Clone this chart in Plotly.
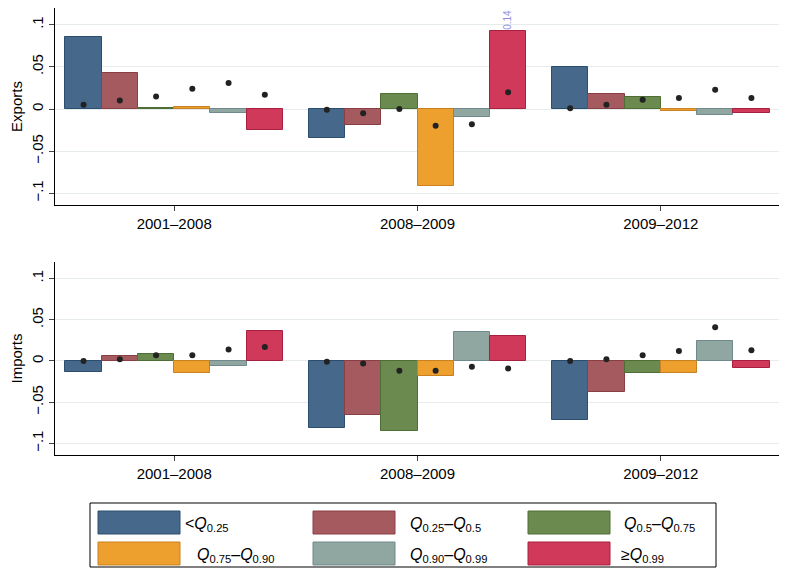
import plotly.graph_objects as go
from plotly.subplots import make_subplots

periods = ["2001–2008", "2008–2009", "2009–2012"]
series = ["<Q0.25", "Q0.25–Q0.5", "Q0.5–Q0.75", "Q0.75–Q0.90", "Q0.90–Q0.99", "≥Q0.99"]
legend_labels = ["<<i>Q</i><sub>0.25</sub>", "<i>Q</i><sub>0.25</sub>–<i>Q</i><sub>0.5</sub>",
                 "<i>Q</i><sub>0.5</sub>–<i>Q</i><sub>0.75</sub>", "<i>Q</i><sub>0.75</sub>–<i>Q</i><sub>0.90</sub>",
                 "<i>Q</i><sub>0.90</sub>–<i>Q</i><sub>0.99</sub>", "≥<i>Q</i><sub>0.99</sub>"]
colors = ["#46698b", "#a55a5f", "#6b8a4f", "#eea02f", "#8fa7a0", "#d0395a"]
edges = ["#2c4e6e", "#8a3f45", "#4f6e36", "#c98020", "#70898a", "#a8203f"]

exp_bars = [[0.085, -0.035, 0.050], [0.043, -0.019, 0.018], [0.001, 0.018, 0.014],
            [0.003, -0.092, -0.002], [-0.005, -0.009, -0.007], [-0.025, 0.14, -0.005]]
exp_dots = [[0.005, -0.001, 0.001], [0.010, -0.005, 0.005], [0.015, 0.000, 0.011],
            [0.024, -0.020, 0.013], [0.031, -0.018, 0.023], [0.017, 0.020, 0.013]]
imp_bars = [[-0.013, -0.081, -0.071], [0.006, -0.065, -0.038], [0.009, -0.085, -0.014],
            [-0.015, -0.018, -0.015], [-0.006, 0.035, 0.024], [0.036, 0.030, -0.009]]
imp_dots = [[0.000, -0.001, 0.000], [0.002, -0.003, 0.002], [0.007, -0.012, 0.007],
            [0.007, -0.012, 0.012], [0.014, -0.007, 0.041], [0.017, -0.009, 0.013]]
clip_top = 0.093

OFF = 8  # page body margin
T, B, H = 0, 116, 447
def py(p):
    return 1 - (p - OFF - T) / H
def px(p):
    return (p - 55) / 725

W = 0.149
fig = make_subplots(rows=2, cols=1)
for row, bars, dots in [(1, exp_bars, exp_dots), (2, imp_bars, imp_dots)]:
    for i in range(6):
        xs = [g + (i - 2.5) * W + 0.01 for g in range(3)]
        ys = [min(v, clip_top) for v in bars[i]]
        fig.add_trace(go.Bar(x=xs, y=ys, width=W, marker=dict(color=colors[i], line=dict(color=edges[i], width=1)),
                             showlegend=False), row=row, col=1)
        fig.add_trace(go.Scatter(x=xs, y=dots[i], mode="markers",
                                 marker=dict(color="#222222", size=6), showlegend=False), row=row, col=1)
        for x, v in zip(xs, bars[i]):
            if v > clip_top:
                fig.add_annotation(x=x, y=clip_top, xref="x" if row == 1 else "x2", yref="y" if row == 1 else "y2",
                                   text=f"{v:.2f}", textangle=-90, showarrow=False, yanchor="bottom",
                                   yshift=0, borderpad=0, font=dict(color="#8f8fdf", size=10))
    fig.update_xaxes(row=row, col=1, range=[-0.48, 2.5], tickvals=[0.01, 1.01, 2.01], ticktext=periods,
                     showline=True, linecolor="black", ticks="outside", ticklen=5, showgrid=False,
                     tickfont=dict(size=15, color="black"), zeroline=False)
    fig.update_yaxes(row=row, col=1, range=[-0.114, 0.12], tickvals=[-0.1, -0.05, 0, 0.05, 0.1],
                     ticktext=["−.1", "−.05", "0", ".05", ".1"], tickangle=-90,
                     showline=True, linecolor="black", ticks="outside", ticklen=5,
                     gridcolor="#e6ecec", zeroline=False, tickfont=dict(size=15, color="black"),
                     title=dict(text="Exports" if row == 1 else "Imports", font=dict(size=15, color="black"), standoff=2))
fig.update_yaxes(row=1, col=1, domain=[py(205), 1])
fig.update_yaxes(row=2, col=1, domain=[0, py(262)])

box_x = [98, 313, 528]
lab_x = [[183, 408, 622], [195, 408, 619]]
for k in range(6):
    r, c = divmod(k, 3)
    x0 = box_x[c]
    y0 = 511 + r * 31
    fig.add_shape(type="rect", xref="paper", yref="paper",
                  x0=px(x0), x1=px(x0 + 82), y0=py(y0 + 23), y1=py(y0),
                  fillcolor=colors[k], line=dict(color=edges[k], width=1))
    fig.add_annotation(xref="paper", yref="paper", x=px(lab_x[r][c]), y=py(y0 + 13),
                       text=legend_labels[k], showarrow=False, xanchor="left", yanchor="middle",
                       font=dict(size=16, color="black"))
fig.add_shape(type="rect", xref="paper", yref="paper", x0=px(90), x1=px(716),
              y0=py(567), y1=py(503), line=dict(color="black", width=1))

fig.update_layout(width=779, height=563, margin=dict(l=55 - OFF, r=7, t=T, b=B),
                  plot_bgcolor="white", paper_bgcolor="white", bargap=0,
                  font=dict(family="Liberation Sans, Arial, sans-serif"))
fig.write_html("out.html")
